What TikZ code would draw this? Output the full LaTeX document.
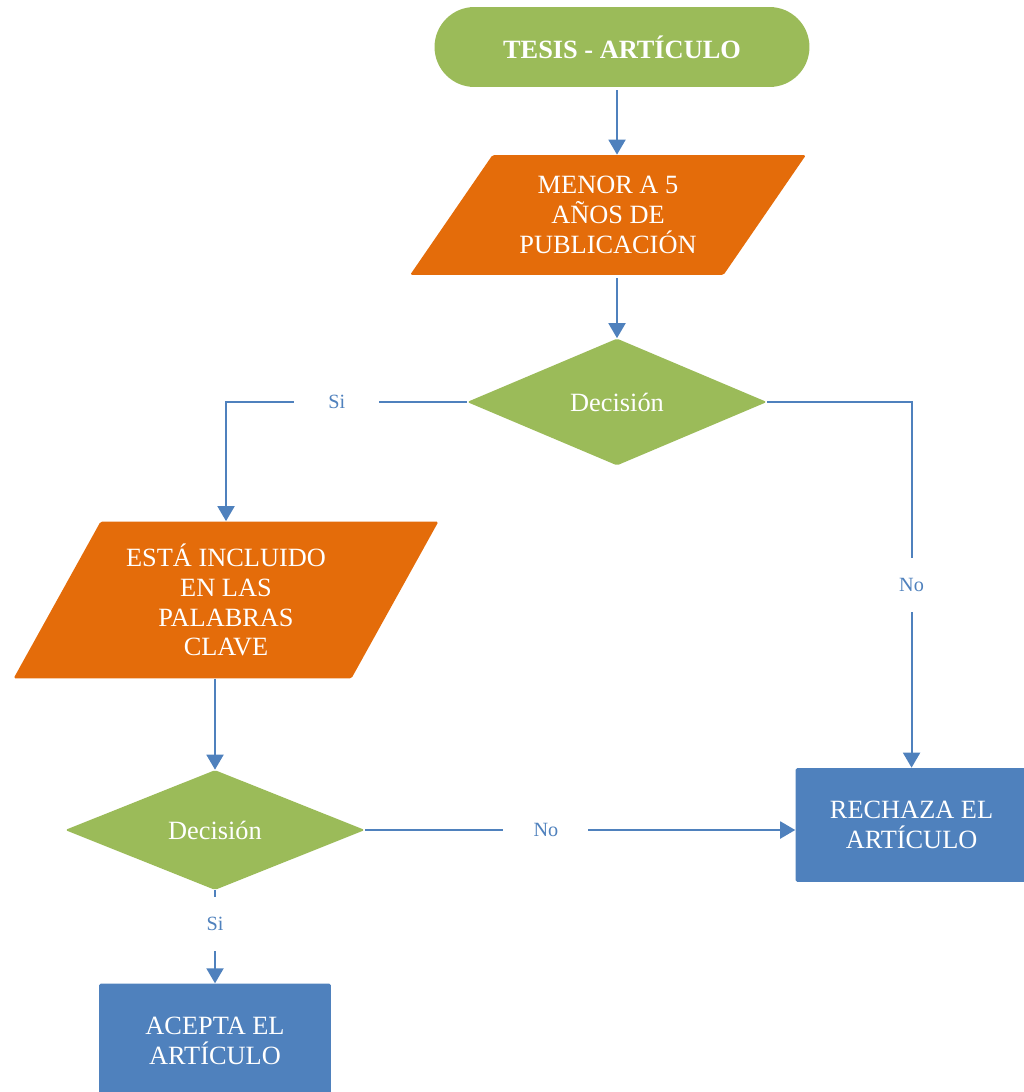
\documentclass[tikz,border=0pt]{standalone}
\usepackage{fontspec}
\setmainfont{Liberation Serif}
\usetikzlibrary{positioning,shapes.geometric,arrows.meta}

\definecolor{verde}{HTML}{9BBB59}
\definecolor{naranja}{HTML}{E46C0A}
\definecolor{azul}{HTML}{4F81BD}

\tikzset{
  inicio/.style={fill=verde, rounded corners=0.8cm, minimum width=7.5cm, minimum height=1.6cm,
    text=white, font=\fontsize{15}{18}\selectfont\bfseries},
  datos/.style={trapezium, trapezium stretches body, fill=naranja, text=white, align=center,
    rounded corners=1pt, inner sep=0pt, font=\fontsize{15}{17}\selectfont},
  decision/.style={diamond, fill=verde, text=white, inner sep=0pt, minimum width=6cm,
    rounded corners=1pt, font=\fontsize{15}{17}\selectfont},
  caja/.style={fill=azul, text=white, align=center, minimum width=4.64cm, minimum height=2.28cm,
    rounded corners=1pt, font=\fontsize{15}{17}\selectfont},
  flecha/.style={draw=azul, line width=1.1pt, -{Triangle[length=0.3cm,width=0.34cm]}},
  etiq/.style={fill=white, text=azul, inner sep=0pt, minimum width=1.7cm, minimum height=1.08cm,
    font=\fontsize{11.5}{13}\selectfont}
}

\begin{document}
\begin{tikzpicture}[x=0.02cm,y=-0.02cm]
  \useasboundingbox (0,0) rectangle (1024,1092);

  \node[inicio] (ini) at (622,47) {TESIS - ARTÍCULO};
  \node[datos, trapezium left angle=43.2, trapezium right angle=136.8,
        minimum width=7.92cm, minimum height=2.4cm] (pal1) at (608,215) {MENOR A 5\\AÑOS DE\\PUBLICACIÓN};
  \node[decision, minimum height=2.54cm] (dec1) at (617,402) {Decisión};
  \node[datos, trapezium left angle=52.3, trapezium right angle=127.7,
        minimum width=8.5cm, minimum height=3.14cm] (pal2) at (226,600) {ESTÁ INCLUIDO\\EN LAS\\PALABRAS\\CLAVE};
  \node[decision, minimum height=2.4cm] (dec2) at (215,830) {Decisión};
  \node[caja, right=8.6cm of dec2, yshift=0.1cm] (rech) {RECHAZA EL\\ARTÍCULO};
  \node[caja, below=1.86cm of dec2] (acep) {ACEPTA EL\\ARTÍCULO};

  %ini>pal1
  \draw[flecha, shorten <=1.7pt] (ini.south -| dec1.north) -- (pal1.north -| dec1.north);

  %pal1>dec1
  \draw[flecha, shorten <=1.7pt] (pal1.south -| dec1.north) -- (dec1.north);

  %dec1>pal2
  \draw[flecha] (dec1.west) -| node[etiq, pos=0.27] (si1) {Si} (pal2.north);
  %dec1>rech
  \draw[flecha] (dec1.east) -| node[etiq, pos=0.75] (no1) {No} (rech.north);

  %pal2>dec2
  \draw[flecha] (pal2.south -| dec2.north) -- (dec2.north);

  %dec2>rech
  \draw[flecha] (dec2.east) -- node[etiq, pos=0.42] (no2) {No} (dec2.east -| rech.west);
  %dec2>acep
  \draw[flecha] (dec2.south) -- node[etiq, pos=0.36] (si2) {Si} (acep.north);
\end{tikzpicture}
\end{document}
